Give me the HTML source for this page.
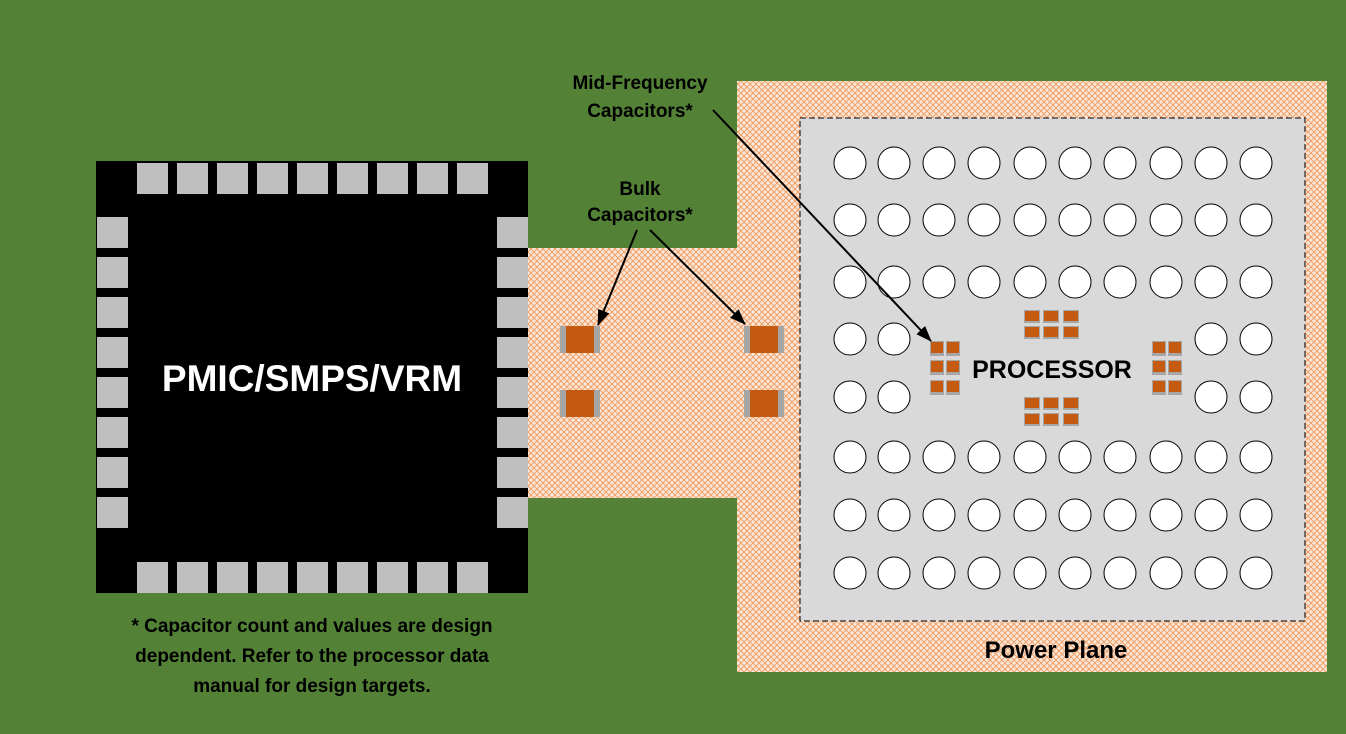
<!DOCTYPE html>
<html><head><style>body{margin:0}svg{display:block}</style></head><body>
<svg width="1346" height="734" xmlns="http://www.w3.org/2000/svg" font-family="Liberation Sans, sans-serif">
<defs>
<pattern id="h" width="6" height="6" patternUnits="userSpaceOnUse">
<rect width="6" height="6" fill="#fbe5d6"/>
<path d="M0 0L6 6M6 0L0 6" stroke="#ee9a60" stroke-width="0.9"/>
</pattern>
<marker id="a" markerWidth="16" markerHeight="12" refX="15" refY="6" orient="auto" markerUnits="userSpaceOnUse" viewBox="0 0 16 12"><path d="M0 0L16 6L0 12z" fill="#000"/></marker>
<g id="bc"><rect width="40" height="27" fill="#a6a6a6"/><rect x="6" width="28" height="27" fill="#c55a11"/></g>
<g id="sc"><rect width="14" height="15" fill="#a6a6a6"/><rect x="1" y="1" width="12" height="11" fill="#c55a11"/></g>
<g id="sch"><rect width="16" height="13" fill="#a6a6a6"/><rect x="1" y="1" width="14" height="10" fill="#c55a11"/></g>
<g id="r" fill="#fff" stroke="#000" stroke-width="1"><circle cx="850" cy="0" r="16"/><circle cx="894" cy="0" r="16"/><circle cx="939" cy="0" r="16"/><circle cx="984" cy="0" r="16"/><circle cx="1030" cy="0" r="16"/><circle cx="1075" cy="0" r="16"/><circle cx="1120" cy="0" r="16"/><circle cx="1166" cy="0" r="16"/><circle cx="1211" cy="0" r="16"/><circle cx="1256" cy="0" r="16"/></g>
<g id="tp" fill="#bfbfbf"><rect x="137" width="31" height="31"/><rect x="177" width="31" height="31"/><rect x="217" width="31" height="31"/><rect x="257" width="31" height="31"/><rect x="297" width="31" height="31"/><rect x="337" width="31" height="31"/><rect x="377" width="31" height="31"/><rect x="417" width="31" height="31"/><rect x="457" width="31" height="31"/></g>
<g id="lp" fill="#bfbfbf"><rect y="217" width="31" height="31"/><rect y="257" width="31" height="31"/><rect y="297" width="31" height="31"/><rect y="337" width="31" height="31"/><rect y="377" width="31" height="31"/><rect y="417" width="31" height="31"/><rect y="457" width="31" height="31"/><rect y="497" width="31" height="31"/></g>
</defs>
<rect width="1346" height="734" fill="#538135"/>
<rect x="526" y="248" width="215" height="250" fill="url(#h)"/>
<rect x="737" y="81" width="590" height="591" fill="url(#h)"/>
<rect x="800" y="118" width="505" height="503" fill="#d9d9d9" stroke="#000" stroke-dasharray="6,3"/>
<use href="#r" y="163"/><use href="#r" y="220"/><use href="#r" y="282"/>
<use href="#r" y="457"/><use href="#r" y="515"/><use href="#r" y="573"/>
<g fill="#fff" stroke="#000" stroke-width="1">
<circle cx="850" cy="339" r="16"/><circle cx="894" cy="339" r="16"/><circle cx="1211" cy="339" r="16"/><circle cx="1256" cy="339" r="16"/>
<circle cx="850" cy="397" r="16"/><circle cx="894" cy="397" r="16"/><circle cx="1211" cy="397" r="16"/><circle cx="1256" cy="397" r="16"/>
</g>
<use href="#sc" x="930" y="341"/><use href="#sc" x="946" y="341"/><use href="#sc" x="930" y="360"/><use href="#sc" x="946" y="360"/><use href="#sc" x="930" y="380"/><use href="#sc" x="946" y="380"/>
<use href="#sc" x="1152" y="341"/><use href="#sc" x="1168" y="341"/><use href="#sc" x="1152" y="360"/><use href="#sc" x="1168" y="360"/><use href="#sc" x="1152" y="380"/><use href="#sc" x="1168" y="380"/>
<use href="#sch" x="1024" y="310"/><use href="#sch" x="1043" y="310"/><use href="#sch" x="1063" y="310"/><use href="#sch" x="1024" y="326"/><use href="#sch" x="1043" y="326"/><use href="#sch" x="1063" y="326"/>
<use href="#sch" x="1024" y="397"/><use href="#sch" x="1043" y="397"/><use href="#sch" x="1063" y="397"/><use href="#sch" x="1024" y="413"/><use href="#sch" x="1043" y="413"/><use href="#sch" x="1063" y="413"/>
<text x="1052" y="378" font-size="25" font-weight="bold" text-anchor="middle">PROCESSOR</text>
<use href="#bc" x="560" y="326"/><use href="#bc" x="560" y="390"/><use href="#bc" x="744" y="326"/><use href="#bc" x="744" y="390"/>
<rect x="96" y="161" width="432" height="432" fill="#000"/>
<use href="#tp" y="163"/><use href="#tp" y="562"/>
<use href="#lp" x="97"/><use href="#lp" x="497"/>
<text x="312" y="391" font-size="37" font-weight="bold" fill="#fff" text-anchor="middle">PMIC/SMPS/VRM</text>
<g font-size="19" font-weight="bold" text-anchor="middle">
<text x="640" y="195">Bulk</text><text x="640" y="221">Capacitors*</text>
<text x="640" y="89">Mid-Frequency</text><text x="640" y="117">Capacitors*</text>
<text x="1056" y="658" font-size="24">Power Plane</text>
<text x="312" y="632">* Capacitor count and values are design</text>
<text x="312" y="662">dependent. Refer to the processor data</text>
<text x="312" y="692">manual for design targets.</text>
</g>
<g stroke="#000" stroke-width="2" marker-end="url(#a)">
<line x1="637" y1="230" x2="598" y2="325"/>
<line x1="650" y1="230" x2="745" y2="324"/>
<line x1="713" y1="110" x2="931" y2="341"/>
</g>
</svg>
</body></html>
